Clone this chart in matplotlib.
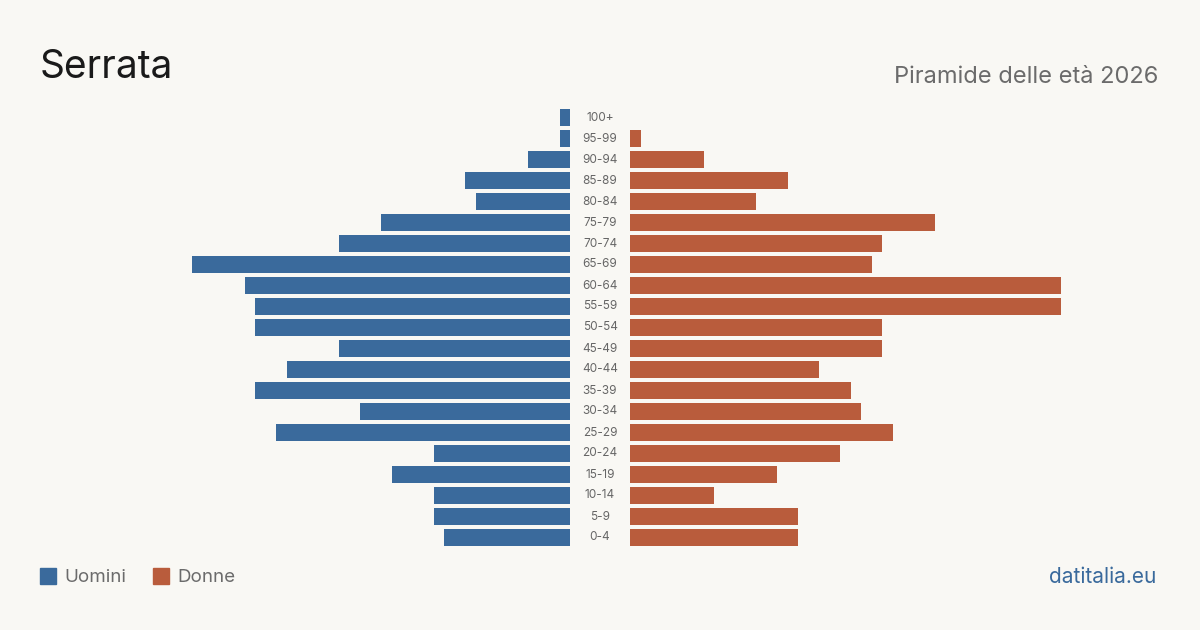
import matplotlib.pyplot as plt
from matplotlib.patches import Rectangle

plt.rcParams['font.family'] = ['Inter', 'DejaVu Sans']

# age groups from youngest to oldest
ages = ['0-4', '5-9', '10-14', '15-19', '20-24', '25-29', '30-34', '35-39',
        '40-44', '45-49', '50-54', '55-59', '60-64', '65-69', '70-74',
        '75-79', '80-84', '85-89', '90-94', '95-99', '100+']
men = [12, 13, 13, 17, 13, 28, 20, 30, 27, 22, 30, 30, 31, 36, 22,
       18, 9, 10, 4, 1, 1]
women = [16, 16, 8, 14, 20, 25, 22, 21, 18, 24, 24, 41, 41, 23, 24,
         29, 12, 15, 7, 1, 0]

bg = '#f9f8f4'
blue = '#3a6a9c'
red = '#b95c3c'

W, H = 1200, 630
fig = plt.figure(figsize=(12, 6.3), dpi=100, facecolor=bg)

px = 10.5  # pixels per person
bottom = (H - 548) / H
height = 441 / H
ax_l = fig.add_axes([150 / W, bottom, 420 / W, height])
ax_r = fig.add_axes([630 / W, bottom, 470 / W, height])

y = list(range(len(ages)))
ax_l.barh(y, men, height=0.81, color=blue)
ax_r.barh(y, women, height=0.81, color=red)
ax_l.set_xlim(420 / px, 0)
ax_r.set_xlim(0, 470 / px)
for ax in (ax_l, ax_r):
    ax.set_ylim(-0.5, len(ages) - 0.5)
    ax.axis('off')

# age labels in the middle
for i, a in enumerate(ages):
    fig.text(600 / W, bottom + (i + 0.5) / len(ages) * height, a,
             ha='center', va='center', fontsize=8.5, color='#666666')

fig.text(40 / W, 1 - 67 / H, 'Serrata', fontsize=28, color='#1a1a1a',
         va='center', ha='left')
fig.text(1158 / W, 1 - 77 / H, 'Piramide delle età 2026', fontsize=17,
         color='#6b6b6b', va='center', ha='right')

# legend
fig.patches.append(Rectangle((40 / W, 1 - 584 / H), 16 / W, 16 / H,
                             transform=fig.transFigure, color=blue))
fig.text(64 / W, 1 - 577 / H, 'Uomini', fontsize=13.5, color='#6b6b6b',
         va='center', ha='left')
fig.patches.append(Rectangle((153 / W, 1 - 584 / H), 16 / W, 16 / H,
                             transform=fig.transFigure, color=red))
fig.text(177 / W, 1 - 577 / H, 'Donne', fontsize=13.5, color='#6b6b6b',
         va='center', ha='left')

fig.text(1156 / W, 1 - 577 / H, 'datitalia.eu', fontsize=15, color=blue,
         va='center', ha='right')

fig.savefig('out.png', dpi=100, facecolor=bg)
